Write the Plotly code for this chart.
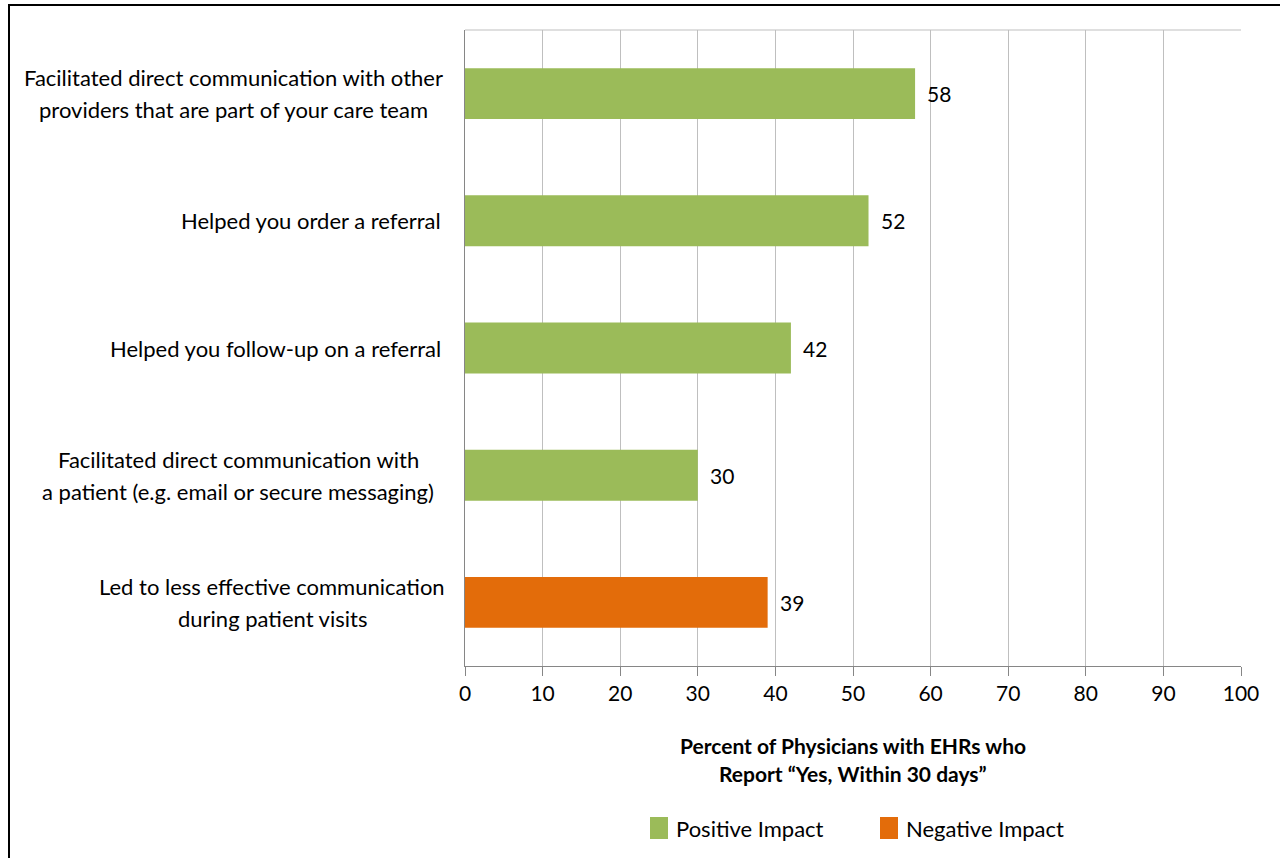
import plotly.graph_objects as go

categories = [
    "Facilitated direct communication with other<br>providers that are part of your care team",
    "Helped you order a referral",
    "Helped you follow-up on a referral",
    "Facilitated direct communication with<br>a patient (e.g. email or secure messaging)",
    "Led to less effective communication<br>during patient visits",
]
positive_cats = categories[:4]
positive_vals = [58, 52, 42, 30]
negative_cats = categories[4:]
negative_vals = [39]
x_ticks = [0, 10, 20, 30, 40, 50, 60, 70, 80, 90, 100]
series_names = ["Positive Impact", "Negative Impact"]
axis_title = ["Percent of Physicians with EHRs who", "Report “Yes, Within 30 days”"]

FONT = "Lato"
GREEN = "#9BBB59"
ORANGE = "#E36C0A"

W, H = 1280, 858
L, R, T, B = 465, 39, 30, 192
PW, PH = W - L - R, H - T - B


def px_x(px):
    return (px - L) / PW


def px_y(py):
    return 1 - (py - T) / PH


fig = go.Figure()
fig.add_trace(go.Bar(
    y=positive_cats, x=positive_vals, orientation="h", name=series_names[0],
    marker=dict(color=GREEN, line=dict(width=0)), showlegend=False,
))
fig.add_trace(go.Bar(
    y=negative_cats, x=negative_vals, orientation="h", name=series_names[1],
    marker=dict(color=ORANGE, line=dict(width=0)), showlegend=False,
))

# value labels
for c, v in list(zip(positive_cats, positive_vals)) + list(zip(negative_cats, negative_vals)):
    fig.add_annotation(x=v, y=c, xref="x", yref="y", text=str(v), showarrow=False,
                       xanchor="left", xshift=10, font=dict(size=21, color="#000000", family=FONT))

# category labels, centered lines, block right-aligned
LINE = 32
for c in categories:
    lines = c.split("<br>")
    n = len(lines)
    for i, ln in enumerate(lines):
        off = ((n - 1) / 2 - i) * LINE
        fig.add_annotation(xref="paper", yref="y", x=0, y=c, text=ln, showarrow=False,
                           xanchor="right", xshift=-22 if n == 1 else 0, yshift=off,
                           font=dict(size=22, color="#000000", family=FONT))

# re-align multi-line blocks: compute using a shared right edge via invisible centered layout
# (multi-line blocks are centered on a common center so the longest line ends at right edge)
fig.layout.annotations = [a for a in fig.layout.annotations if a.xref != "paper"]
block_centers = {}
for c in categories:
    lines = c.split("<br>")
    n = len(lines)
    longest = max(len(l) for l in lines)
    # center x (px) of the block: right edge at 443, approximate block width by char count
    width = longest * 9.75
    cx = 443 - width / 2
    for i, ln in enumerate(lines):
        off = ((n - 1) / 2 - i) * LINE
        if n == 1:
            fig.add_annotation(xref="paper", yref="y", x=px_x(443), y=c, text=ln, showarrow=False,
                               xanchor="right", yshift=off,
                               font=dict(size=22, color="#000000", family=FONT))
        else:
            fig.add_annotation(xref="paper", yref="y", x=px_x(cx), y=c, text=ln, showarrow=False,
                               xanchor="center", yshift=off,
                               font=dict(size=22, color="#000000", family=FONT))

# axis title
for i, t in enumerate(axis_title):
    fig.add_annotation(xref="paper", yref="paper", x=0.5, y=px_y(745 + 28 * i), text="<b>%s</b>" % t,
                       showarrow=False, xanchor="center", yanchor="middle",
                       font=dict(size=21, color="#000000", family=FONT))

# manual legend
legend_items = [(series_names[0], GREEN, 650), (series_names[1], ORANGE, 880)]
for name, col, x0 in legend_items:
    fig.add_shape(type="rect", xref="paper", yref="paper",
                  x0=px_x(x0), x1=px_x(x0 + 18), y0=px_y(839), y1=px_y(817),
                  fillcolor=col, line=dict(width=0))
    fig.add_annotation(xref="paper", yref="paper", x=px_x(x0 + 24), y=px_y(828), text=name,
                       showarrow=False, xanchor="left", yanchor="middle",
                       font=dict(size=22, color="#000000", family=FONT))

# outer frame
fig.add_shape(type="rect", xref="paper", yref="paper",
              x0=px_x(9), x1=px_x(1400), y0=px_y(1000), y1=px_y(5),
              line=dict(color="#000000", width=2), layer="above")

# top border of plot area (gray)
fig.add_shape(type="line", xref="paper", yref="paper", x0=0, x1=1, y0=1, y1=1,
              line=dict(color="#BFBFBF", width=1))

fig.update_layout(
    width=W, height=H,
    margin=dict(l=L, r=R, t=T, b=B, autoexpand=False),
    paper_bgcolor="white", plot_bgcolor="white",
    font=dict(family=FONT, size=21, color="#000000"),
    barmode="overlay", bargap=0.6,
    showlegend=False,
    xaxis=dict(
        range=[0, 100], tickvals=x_ticks, ticktext=[str(t) for t in x_ticks],
        showgrid=True, gridcolor="#BFBFBF", gridwidth=1,
        showline=True, linecolor="#868686", linewidth=1,
        ticks="outside", ticklen=9, tickcolor="#868686",
        zeroline=False, automargin=False,
        tickfont=dict(size=21, family=FONT),
    ),
    yaxis=dict(
        categoryorder="array", categoryarray=categories[::-1],
        showticklabels=False, showgrid=False, automargin=False,
        showline=True, linecolor="#868686", linewidth=1, ticks="",
        zeroline=False,
    ),
)

fig.write_html("out.html")
